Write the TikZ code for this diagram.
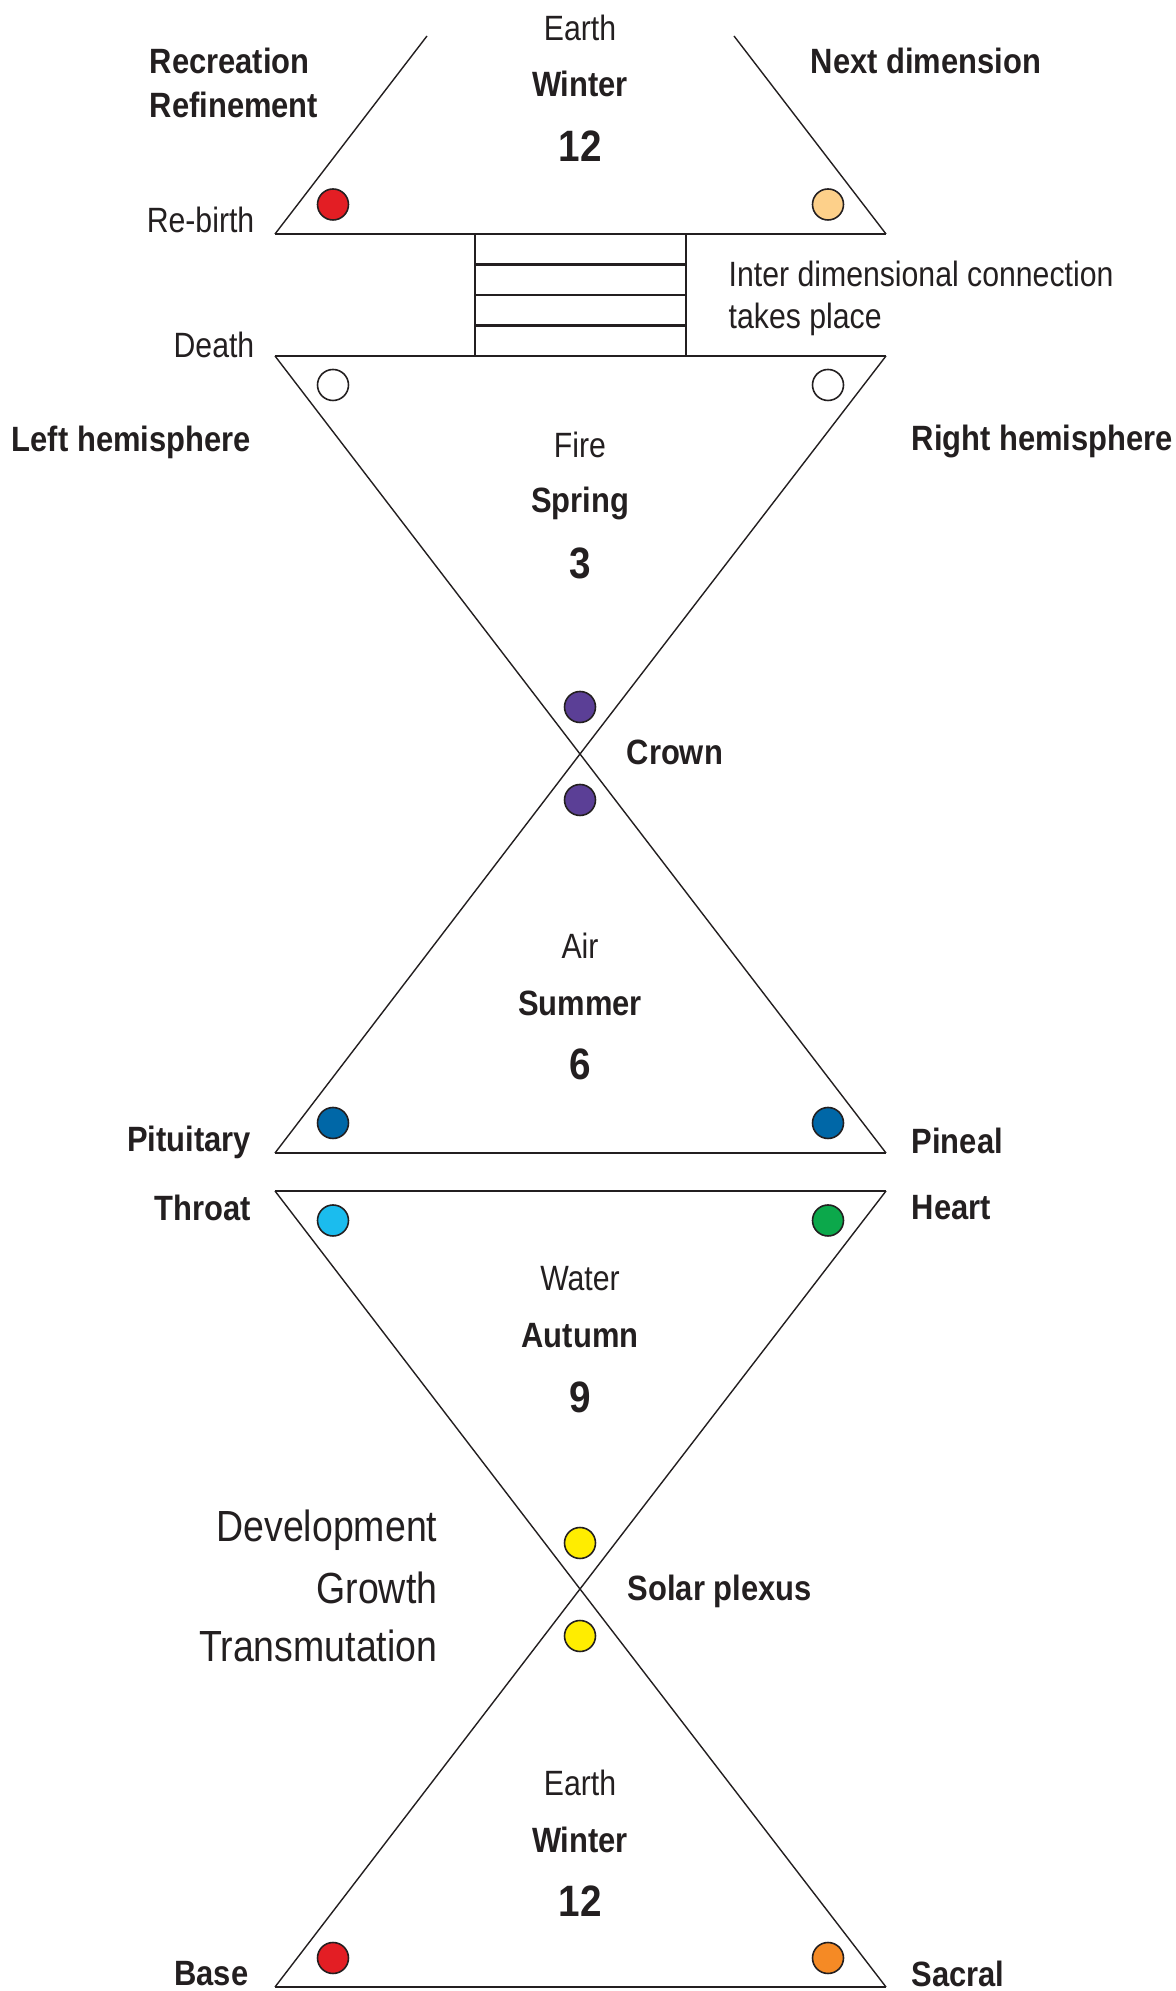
\documentclass[tikz,border=0pt]{standalone}
\usepackage{fontspec}
\setmainfont{Liberation Sans}[FakeStretch=0.86,BoldFeatures={FakeStretch=0.88}]
\usepackage{tikz}
\usetikzlibrary{positioning}
\definecolor{ink}{HTML}{231F20}
\definecolor{chred}{HTML}{E31E24}
\definecolor{chpeach}{HTML}{FDD08A}
\definecolor{chpurple}{HTML}{5B3F96}
\definecolor{chblue}{HTML}{0067A7}
\definecolor{chcyan}{HTML}{1BBCEE}
\definecolor{chgreen}{HTML}{0CA84B}
\definecolor{chyellow}{HTML}{FFED00}
\definecolor{chorange}{HTML}{F58A25}
\tikzstyle{side}=[draw=ink, line width=0.4pt]
\tikzstyle{tbase}=[draw=ink, line width=0.65pt]
\tikzstyle{rung}=[draw=ink, line width=0.75pt]
\tikzstyle{chak}=[circle, draw=ink, line width=0.45pt, minimum size=0.31cm,
                  inner sep=0, fill=white]
\tikzstyle{lab}=[font=\bfseries, inner sep=0, text=ink]
\tikzstyle{lite}=[font=\fontsize{10}{12}\selectfont, inner sep=0, text=ink]
\tikzstyle{big}=[font=\fontsize{12.4}{14}\selectfont, inner sep=0, text=ink]
\tikzstyle{num}=[font=\fontsize{12.5}{14}\selectfont\bfseries, inner sep=0,
                 text=ink]

\begin{document}
\begin{tikzpicture}
  \path[use as bounding box] (0,0) rectangle (11.76,19.91);
  % corners
  \coordinate (tL) at (2.75,17.57);
  \coordinate (tR) at (8.86,17.57);
  \coordinate (tLu) at (4.27,19.55);
  \coordinate (tRu) at (7.34,19.55);
  \coordinate (fL) at (2.75,16.35);
  \coordinate (fR) at (8.86,16.35);
  \coordinate (c1) at (5.80,12.37);
  \coordinate (aL) at (2.75,8.38);
  \coordinate (aR) at (8.86,8.38);
  \coordinate (wL) at (2.75,8.00);
  \coordinate (wR) at (8.86,8.00);
  \coordinate (c2) at (5.80,4.02);
  \coordinate (eL) at (2.75,0.04);
  \coordinate (eR) at (8.86,0.04);
  % triangles
  \draw[side] (tL) -- (tLu) (tR) -- (tRu);
  \draw[side] (fL) -- (c1) -- (aL) (fR) -- (c1) -- (aR);
  \draw[side] (wL) -- (c2) -- (eL) (wR) -- (c2) -- (eR);
  \draw[tbase] (tL) -- (tR) (fL) -- (fR) (aL) -- (aR) (wL) -- (wR) (eL) -- (eR);
  % ladder
  \draw[side] (4.75,17.57) -- (4.75,16.35) (6.86,17.57) -- (6.86,16.35);
  \foreach \y in {17.265,16.96,16.655}
    \draw[rung] (4.75,\y) -- (6.86,\y);
  % chakras
  \node[chak, fill=chred] (rebirth) at (3.33,17.865) {};
  \node[chak, fill=chpeach] (nextdim) at (8.28,17.865) {};
  \node[chak] (lefth) at (3.33,16.06) {};
  \node[chak] (righth) at (8.28,16.06) {};
  \node[chak, fill=chpurple] (crownA) at (5.80,12.84) {};
  \node[chak, fill=chpurple] (crownB) at (5.80,11.91) {};
  \node[chak, fill=chblue] (pituitary) at (3.33,8.68) {};
  \node[chak, fill=chblue] (pineal) at (8.28,8.68) {};
  \node[chak, fill=chcyan] (throat) at (3.33,7.705) {};
  \node[chak, fill=chgreen] (heart) at (8.28,7.705) {};
  \node[chak, fill=chyellow] (solarA) at (5.80,4.48) {};
  \node[chak, fill=chyellow] (solarB) at (5.80,3.55) {};
  \node[chak, fill=chred] (base) at (3.33,0.33) {};
  \node[chak, fill=chorange] (sacral) at (8.28,0.33) {};
  % top
  \node[lite] (earthT) at (5.80,19.63) {Earth};
  \node[lab] (winterT) at (5.80,19.07) {Winter};
  \node[num] (twelveT) at (5.80,18.45) {12};
  \node[lab, anchor=west] (recr) at (1.49,19.30) {Recreation};
  \node[lab, anchor=west] (refi) at (1.49,18.86) {Refinement};
  \node[lab, anchor=west] (next) at (8.10,19.30) {Next dimension};
  \node[lite, anchor=east] (rebirthL) at (2.55,17.71) {Re-birth};
  \node[lite, anchor=east] (deathL) at (2.55,16.46) {Death};
  \node[lite, anchor=west] (inter) at (7.28,17.17) {Inter dimensional connection};
  \node[lite, anchor=west] (takes) at (7.28,16.72) {takes place};
  % fire
  \node[lab, anchor=east] (lefthL) at (2.515,15.49) {Left hemisphere};
  \node[lab, anchor=west] (righthL) at (9.11,15.49) {Right hemisphere};
  \node[lite] (fire) at (5.80,15.465) {Fire};
  \node[lab] (spring) at (5.80,14.87) {Spring};
  \node[num] (three) at (5.80,14.28) {3};
  \node[lab, anchor=west] (crown) at (6.26,12.39) {Crown};
  % air
  \node[lite] (air) at (5.80,10.45) {Air};
  \node[lab] (summer) at (5.80,9.88) {Summer};
  \node[num] (six) at (5.80,9.27) {6};
  \node[lab, anchor=east] (pituitaryL) at (2.515,8.49) {Pituitary};
  \node[lab, anchor=west] (pinealL) at (9.11,8.505) {Pineal};
  % water
  \node[lab, anchor=east] (throatL) at (2.515,7.83) {Throat};
  \node[lab, anchor=west] (heartL) at (9.11,7.83) {Heart};
  \node[lite] (water) at (5.80,7.12) {Water};
  \node[lab] (autumn) at (5.80,6.55) {Autumn};
  \node[num] (nine) at (5.80,5.94) {9};
  \node[big, anchor=east] (devel) at (4.38,4.61) {Development};
  \node[big, anchor=east] (growth) at (4.38,4.035) {Growth};
  \node[big, anchor=east] (trans) at (4.38,3.45) {Transmutation};
  \node[lab, anchor=west] (solar) at (6.27,4.00) {Solar plexus};
  % earth
  \node[lite] (earthB) at (5.80,2.08) {Earth};
  \node[lab] (winterB) at (5.80,1.51) {Winter};
  \node[num] (twelveB) at (5.80,0.90) {12};
  \node[lab, anchor=east] (baseL) at (2.49,0.17) {Base};
  \node[lab, anchor=west] (sacralL) at (9.11,0.17) {Sacral};
\end{tikzpicture}
\end{document}
